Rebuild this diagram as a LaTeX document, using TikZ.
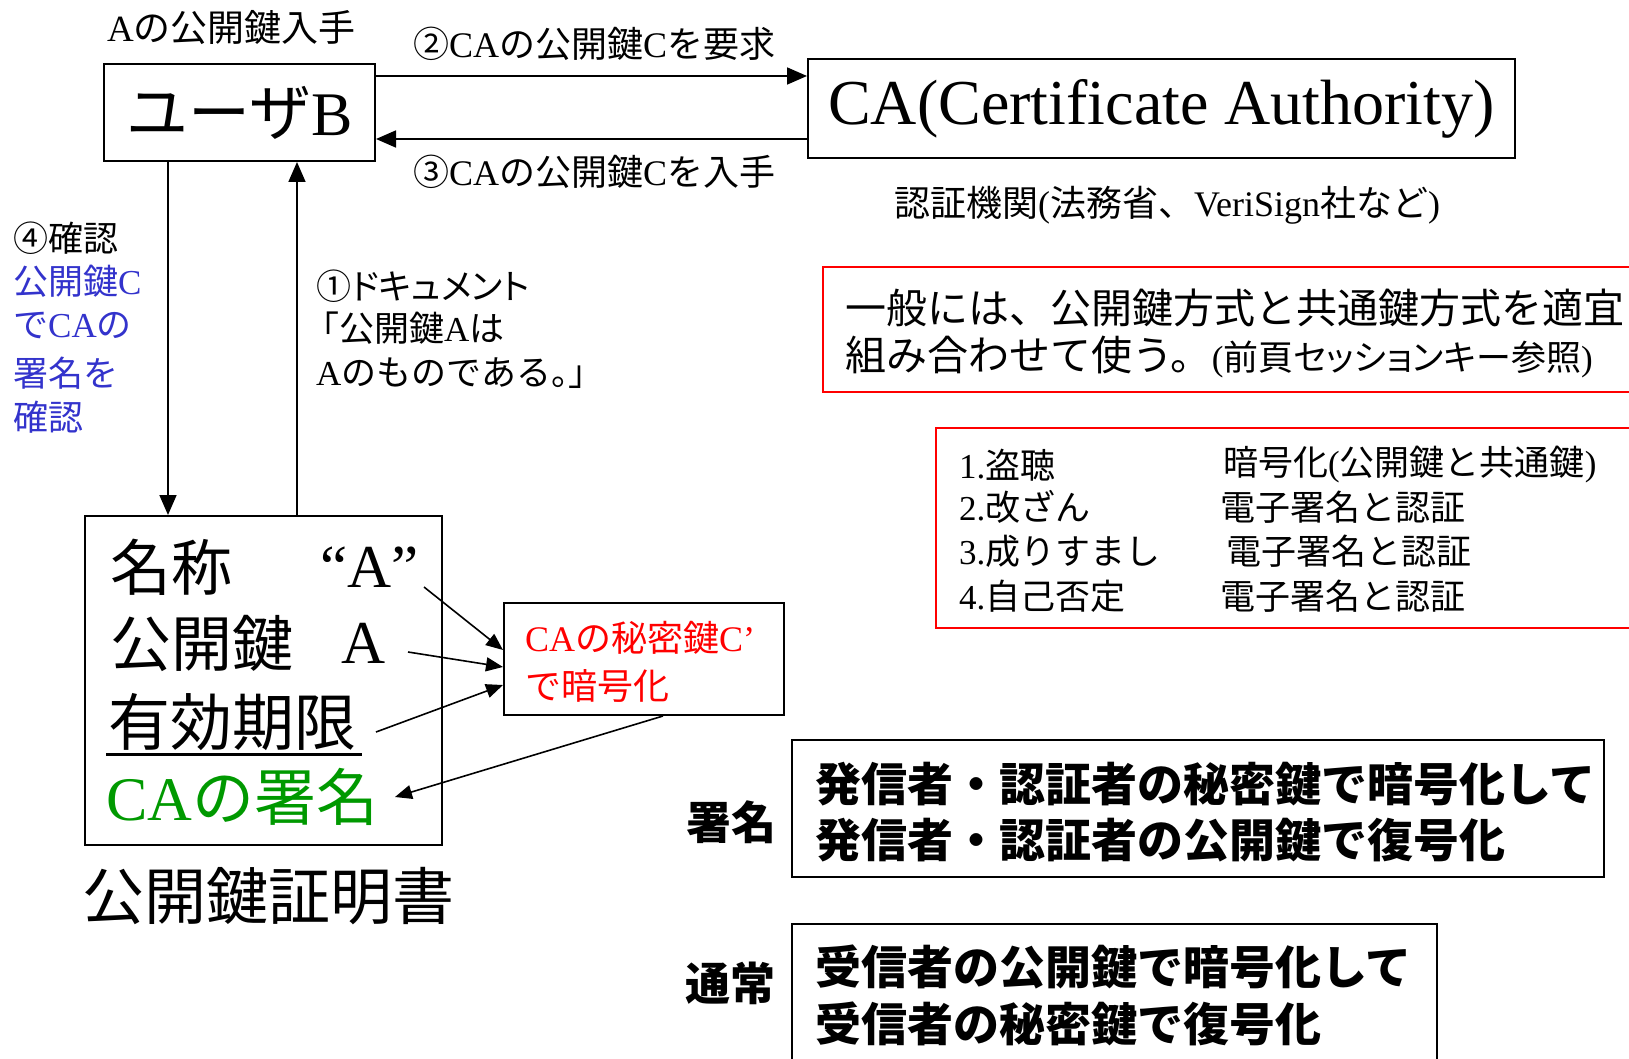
\documentclass[tikz,border=0pt]{standalone}
\usepackage{fontspec}
\setmainfont{Liberation Serif}
\newfontfamily\jp{Noto Sans CJK JP}
\newfontfamily\jpp{Noto Sans CJK JP}[RawFeature=+palt]
\usetikzlibrary{arrows.meta}
\newcommand\J[1]{{\jp #1}}
\newcommand\JP[1]{{\jpp #1}}
\newcommand\fs[1]{\fontsize{#1}{#1}\selectfont}
\definecolor{myblue}{RGB}{51,51,204}
\definecolor{mygreen}{RGB}{0,153,0}
\definecolor{myred}{RGB}{255,0,0}
\begin{document}
\begin{tikzpicture}[x=1pt,y=-1pt,
  txt/.style={inner sep=0pt, anchor=west},
  box/.style={draw, line width=2pt, inner sep=0pt},
  redbox/.style={draw=myred, line width=2.2pt, inner sep=0pt},
  arr/.style={line width=1.7pt, -{Triangle[length=20pt,width=17pt]}},
  sarr/.style={line width=1.6pt, -{Triangle[length=17pt,width=14pt]}},
]
\useasboundingbox (0,0) rectangle (1629,1059);
\fill[white] (0,0) rectangle (1629,1059);
\clip (0,0) rectangle (1629,1059);

% boxes
\node[box, minimum width=271pt, minimum height=97pt, font=\fs{62}] (userB) at (239.5,112.5) {\J{ユーザ}B};
\node[box, minimum width=707pt, minimum height=99pt, font=\fs{64}] (ca) at (1161.5,108.5) {CA(Certificate Authority)};
\node[box, minimum width=357pt, minimum height=329pt] (cert) at (263.5,680.5) {};
\node[box, minimum width=280pt, minimum height=112pt] (enc) at (644,659) {};
\node[redbox, minimum width=827pt, minimum height=125pt] (gen) at (1236.5,329.5) {};
\node[redbox, minimum width=714pt, minimum height=200pt] (list) at (1293,528) {};
\node[box, minimum width=812pt, minimum height=137pt] (sigbox) at (1198,808.5) {};
\node[box, minimum width=645pt, minimum height=156pt] (normbox) at (1114.5,1002) {};

% top texts
\node[txt, font=\fs{37}] (t0) at (107,28) {A\J{の公開鍵入手}};
\node[txt, font=\fs{36}] (t2) at (413,44) {\J{②}CA\J{の公開鍵}C\J{を要求}};
\node[txt, font=\fs{36}] (t3) at (413,172) {\J{③}CA\J{の公開鍵}C\J{を入手}};
\node[txt, font=\fs{36}] (org) at (894,205) {\J{認証機関}(\J{法務省、}VeriSign\J{社など})};

% general note
\node[txt, font=\fs{41}] (g1) at (845,308) {\J{一般には、公開鍵方式と共通鍵方式を適宜}};
\node[txt, font=\fs{41}] (g2) at (845,357) {\J{組み合わせて使う。}{\fs{35}(\JP{前頁セッションキー参照})}};

% list
\node[txt, font=\fs{35}] (l1) at (959,465) {1.\J{盗聴}};
\node[txt, font=\fs{35}] (l2) at (959,507) {2.\J{改ざん}};
\node[txt, font=\fs{35}] (l3) at (959,551) {3.\J{成りすまし}};
\node[txt, font=\fs{35}] (l4) at (959,596) {4.\J{自己否定}};
\node[txt, font=\fs{35}] (r1) at (1223,465) {\J{暗号化}(\J{公開鍵と共通鍵})};
\node[txt, font=\fs{35}] (r2) at (1220,507) {\J{電子署名と認証}};
\node[txt, font=\fs{35}] (r3) at (1226,551) {\J{電子署名と認証}};
\node[txt, font=\fs{35}] (r4) at (1220,596) {\J{電子署名と認証}};

% step 4
\node[txt, font=\fs{35}] (c4) at (13,238) {\J{④確認}};
\node[txt, font=\fs{35}, text=myblue] (c4a) at (13,281) {\J{公開鍵}C};
\node[txt, font=\fs{35}, text=myblue] (c4b) at (13,326) {\J{で}CA\J{の}};
\node[txt, font=\fs{35}, text=myblue] (c4c) at (13,373) {\J{署名を}};
\node[txt, font=\fs{35}, text=myblue] (c4d) at (13,417) {\J{確認}};

% step 1
\node[txt, font=\fs{35}] (d1) at (316,286) {\J{①}\JP{ドキュメント}};
\node[txt, font=\fs{35}] (d2) at (304,328) {\J{「公開鍵}A\J{は}};
\node[txt, font=\fs{35}] (d3) at (316,373) {A\J{のものである}\JP{。」}};

% certificate contents
\node[txt, font=\fs{61}] (nm) at (110,567) {\J{名称}};
\node[txt, font=\fs{61}] (qA) at (320,567) {“A”};
\node[txt, font=\fs{61}] (pk) at (110,643) {\J{公開鍵}};
\node[txt, font=\fs{61}] (pkA) at (341,643) {A};
\node[txt, font=\fs{62}] (exp) at (108,722) {\J{有効期限}};
\draw[line width=3pt] (106,754) -- (362,754);
\node[txt, font=\fs{62}, text=mygreen] (casig) at (106,797) {CA\J{の署名}};
\node[txt, font=\fs{62}] (certlbl) at (82,896) {\J{公開鍵証明書}};

% encryption box text
\node[txt, font=\fs{36}, text=myred] (e1) at (525,638) {CA\J{の秘密鍵}C’};
\node[txt, font=\fs{36}, text=myred] (e2) at (525,686) {\J{で暗号化}};

% signature / normal
\node[txt, font=\fs{45}] (sl) at (686,822) {\J{\bfseries 署名}};
\node[txt, font=\fs{46}] (st1) at (815,784) {\J{\bfseries 発信者・認証者の秘密鍵で暗号化して}};
\node[txt, font=\fs{46}] (st2) at (815,840) {\J{\bfseries 発信者・認証者の公開鍵で復号化}};
\node[txt, font=\fs{45}] (nl) at (685,983) {\J{\bfseries 通常}};
\node[txt, font=\fs{46}] (nt1) at (815,967) {\J{\bfseries 受信者の公開鍵で暗号化して}};
\node[txt, font=\fs{46}] (nt2) at (815,1024) {\J{\bfseries 受信者の秘密鍵で復号化}};

% connectors
\coordinate (y2) at (0,76);
\coordinate (y3) at (0,139);
\coordinate (xd) at (168,0);
\coordinate (xu) at (297,0);
\draw[arr] (userB.east |- y2) -- (ca.west |- y2);
\draw[arr] (ca.west |- y3) -- (userB.east |- y3);
\draw[arr] (userB.south -| xd) -- (cert.north -| xd);
\draw[arr] (cert.north -| xu) -- (userB.south -| xu);

\coordinate (p1) at (424,587);
\coordinate (p2) at (408,652);
\coordinate (p3) at (376,732);
\coordinate (p4) at (395,797);
\draw[sarr] (p1) -- ([yshift=9pt]enc.west);
\draw[sarr] (p2) -- ([yshift=-8pt]enc.west);
\draw[sarr] (p3) -- ([yshift=-26pt]enc.west);
\draw[sarr] ([xshift=19pt]enc.south) -- (p4);
\end{tikzpicture}
\end{document}
